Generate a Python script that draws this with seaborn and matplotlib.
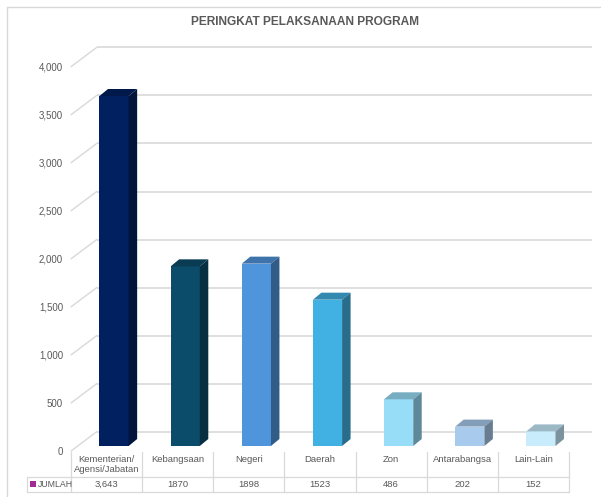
import matplotlib
matplotlib.use("Agg")
import matplotlib.pyplot as plt
import matplotlib.transforms as mtransforms
from matplotlib.patches import Polygon, Rectangle
from matplotlib.lines import Line2D
import seaborn as sns
import pandas as pd

# ---------------- data ----------------
categories = ["Kementerian/\nAgensi/Jabatan", "Kebangsaan", "Negeri", "Daerah",
              "Zon", "Antarabangsa", "Lain-Lain"]
values = [3643, 1870, 1898, 1523, 486, 202, 152]
value_labels = ["3,643", "1870", "1898", "1523", "486", "202", "152"]
bar_colors = ["#002060", "#0B4C6A", "#4F95DB", "#41B0E2", "#98DDF8", "#A8CAEC", "#C8ECFC"]
series_name = "JUMLAH"
series_color = "#A02B93"
title = "PERINGKAT PELAKSANAAN PROGRAM"
yticks = [0, 500, 1000, 1500, 2000, 2500, 3000, 3500, 4000]

# ---------------- style ----------------
sns.set_style("white")
plt.rcParams["font.family"] = ["Liberation Sans", "DejaVu Sans"]
TXT = "#595959"
GRID = "#D9D9D9"

W, H = 601, 497
fig = plt.figure(figsize=(W / 100, H / 100), dpi=100)
fig.patch.set_facecolor("white")

def fx(px):
    return px / W

def fy(py):
    return 1 - py / H

# front plane axes (labels / table plane)
ax_left, ax_right = 71, 569
ax_bottom, ax_top = 451, 66.7
ax = fig.add_axes([fx(ax_left), fy(ax_bottom), (ax_right - ax_left) / W, (ax_bottom - ax_top) / H])
ax.set_facecolor("none")

df = pd.DataFrame({"cat": categories, "val": values})
sns.barplot(data=df, x="cat", y="val", hue="cat", palette=bar_colors, width=0.41,
            saturation=1, legend=False, ax=ax, zorder=3)

ax.set_xlim(-0.5, 6.5)
ax.set_ylim(0, 4000)
for s in ax.spines.values():
    s.set_visible(False)
ax.set_xlabel("")
ax.set_ylabel("")
ax.set_xticks([])

# pixel -> data conversions
sx = 7.0 / (ax_right - ax_left)
sy = 4000.0 / (ax_bottom - ax_top)

# offsets (pixels): bar plane, bar depth, back wall
bdx, bdy = 7.5 * sx, 5.0 * sy
ddx, ddy = 8.5 * sx, 7.0 * sy
wdx, wdy = 25.7 * sx, 19.3 * sy

def shade(c, f):
    r, g, b = matplotlib.colors.to_rgb(c)
    return (r * f, g * f, b * f)

# back wall gridlines and left diagonals
for v in yticks:
    ax.plot([-0.5 + wdx, 6.5 + wdx - 3 * sx], [v + wdy, v + wdy], color=GRID, lw=1.2,
            zorder=0, clip_on=False, solid_capstyle="butt")
    ax.plot([-0.5, -0.5 + wdx], [v, v + wdy], color=GRID, lw=1.0, zorder=0, clip_on=False)

# 3D bars
for p, c in zip(ax.patches, bar_colors):
    x0 = p.get_x() + bdx
    w = p.get_width()
    h = p.get_height()
    y0 = bdy
    p.set_x(x0)
    p.set_y(y0)
    p.set_clip_on(False)
    p.set_edgecolor("none")
    x1 = x0 + w
    y1 = y0 + h
    top = Polygon([(x0, y1), (x1, y1), (x1 + ddx, y1 + ddy), (x0 + ddx, y1 + ddy)],
                  closed=True, facecolor=shade(c, 0.78), edgecolor="none", zorder=3, clip_on=False)
    side = Polygon([(x1, y0), (x1 + ddx, y0 + ddy), (x1 + ddx, y1 + ddy), (x1, y1)],
                   closed=True, facecolor=shade(c, 0.62), edgecolor="none", zorder=3, clip_on=False)
    ax.add_patch(top)
    ax.add_patch(side)

# y tick labels
ax.set_yticks(yticks)
ax.set_yticklabels([f"{t:,}" for t in yticks])
ax.tick_params(axis="y", length=0, pad=5.8, labelsize=7, labelcolor=TXT)

# ---------------- data table ----------------
blend = mtransforms.blended_transform_factory(ax.transData, fig.transFigure)
for k in range(len(categories) + 1):
    ax.add_line(Line2D([k - 0.5, k - 0.5], [fy(452), fy(492)], transform=blend,
                       color=GRID, lw=0.9, clip_on=False))
right_f = ax.get_position().x1
for yy in (477, 492):
    fig.add_artist(Line2D([fx(27), right_f], [fy(yy), fy(yy)], transform=fig.transFigure,
                          color=GRID, lw=0.9))
fig.add_artist(Line2D([fx(27), fx(27)], [fy(477), fy(492)], transform=fig.transFigure,
                      color=GRID, lw=0.9))

for i, (c, lbl) in enumerate(zip(categories, value_labels)):
    ax.text(i, fy(455), c, transform=blend, ha="center", va="top", fontsize=6.8,
            color=TXT, linespacing=1.2)
    ax.text(i, fy(484.5), lbl, transform=blend, ha="center", va="center", fontsize=6.8,
            color=TXT)

fig.add_artist(Rectangle((fx(30), fy(487)), 6 / W, 6 / H, transform=fig.transFigure,
                         facecolor=series_color, edgecolor="none"))
fig.text(fx(37.5), fy(484.5), series_name, ha="left", va="center", fontsize=6.3, color=TXT)

# outer border (left & top)
fig.add_artist(Line2D([fx(6.5), fx(6.5)], [fy(6.5), 0], transform=fig.transFigure, color=GRID, lw=1.0))
fig.add_artist(Line2D([fx(6.5), 1], [fy(6.5), fy(6.5)], transform=fig.transFigure, color=GRID, lw=1.0))

# title
fig.text(fx(305), fy(22), title, ha="center", va="center", fontsize=8.6,
         fontweight="bold", color=TXT)

fig.savefig("out.png", dpi=100)
